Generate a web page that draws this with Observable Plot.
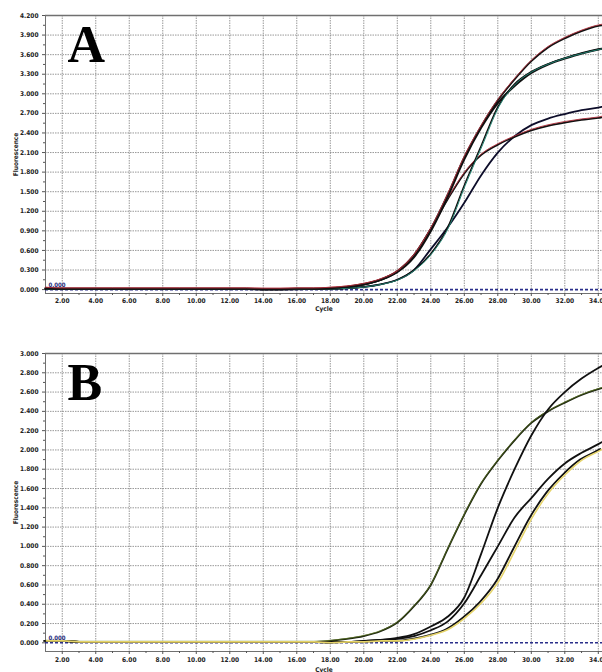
<!DOCTYPE html>
<html><head><meta charset="utf-8">
<script src="https://cdn.jsdelivr.net/npm/d3@7"></script>
<script src="https://cdn.jsdelivr.net/npm/@observablehq/plot@0.6"></script>
<style>
body{margin:0;background:#fff;}
#c{width:602px;}
#c svg{display:block;font-family:"DejaVu Sans Condensed","DejaVu Sans",sans-serif;}
</style>
</head><body><div id="c"></div>
<script>
// Cycle positions (x)
const cycles = [1,2,3,4,5,6,7,8,9,10,11,12,13,14,15,16,17,18,19,20,21,22,23,24,25,26,27,28,29,30,31,32,33,34,34.2];
const xMajorTicks = [2,4,6,8,10,12,14,16,18,20,22,24,26,28,30,32,34];
const xMinorTicks = [3,5,7,9,11,13,15,17,19,21,23,25,27,29,31,33];

// Panel A fluorescence values
const a1 = [0.02,0.01,0.01,0.01,0.01,0.01,0.01,0.01,0.01,0.01,0.01,0.01,0.01,0.005,0.005,0.01,0.01,0.02,0.04,0.08,0.15,0.27,0.52,0.93,1.45,2.03,2.5,2.9,3.22,3.5,3.71,3.85,3.96,4.04,4.05];
const a2 = [0.02,0.01,0.01,0.01,0.01,0.01,0.01,0.01,0.01,0.01,0.01,0.01,0.01,0.005,0.005,0.01,0.01,0.02,0.04,0.08,0.15,0.27,0.5,0.9,1.42,2.0,2.48,2.86,3.12,3.32,3.45,3.54,3.62,3.68,3.69];
const a3 = [0.01,0.01,0.01,0.01,0.01,0.01,0.01,0.01,0.01,0.01,0.01,0.01,0.01,0.005,0.005,0.005,0.01,0.01,0.02,0.04,0.08,0.15,0.3,0.55,0.95,1.6,2.2,2.8,3.15,3.34,3.46,3.55,3.62,3.68,3.69];
const a4 = [0.01,0.01,0.01,0.01,0.01,0.01,0.01,0.01,0.01,0.01,0.01,0.01,0.01,0.005,0.005,0.005,0.01,0.01,0.02,0.04,0.08,0.15,0.3,0.62,0.95,1.33,1.75,2.1,2.35,2.52,2.62,2.69,2.75,2.79,2.8];
const a5 = [0.02,0.01,0.01,0.01,0.01,0.01,0.01,0.01,0.01,0.01,0.01,0.01,0.01,0.005,0.005,0.01,0.01,0.02,0.04,0.08,0.15,0.28,0.53,0.93,1.38,1.78,2.06,2.22,2.34,2.44,2.51,2.56,2.6,2.63,2.64];

// Panel B fluorescence values
const b1 = [0.02,0.02,0.01,0.01,0.01,0.01,0.01,0.01,0.01,0.01,0.01,0.01,0.01,0.01,0.01,0.01,0.01,0.02,0.04,0.07,0.12,0.21,0.38,0.6,0.97,1.33,1.65,1.89,2.1,2.28,2.4,2.49,2.57,2.63,2.64];
const b2 = [0.02,0.02,0.01,0.01,0.01,0.01,0.01,0.01,0.01,0.01,0.01,0.01,0.01,0.01,0.01,0.01,0.01,0.01,0.01,0.02,0.03,0.05,0.09,0.17,0.27,0.47,0.92,1.4,1.8,2.15,2.42,2.6,2.74,2.85,2.87];
const b3 = [0.02,0.02,0.01,0.01,0.01,0.01,0.01,0.01,0.01,0.01,0.01,0.01,0.01,0.01,0.01,0.01,0.01,0.01,0.01,0.02,0.03,0.04,0.07,0.13,0.22,0.41,0.7,1.0,1.3,1.5,1.7,1.86,1.97,2.06,2.08];
const b4 = [0.02,0.02,0.01,0.01,0.01,0.01,0.01,0.01,0.01,0.01,0.01,0.01,0.01,0.01,0.01,0.01,0.01,0.0,0.01,0.01,0.02,0.02,0.04,0.08,0.14,0.26,0.42,0.64,0.97,1.3,1.56,1.75,1.9,1.99,2.01];

const threshold = [0];
const yTicksA = [0,0.3,0.6,0.9,1.2,1.5,1.8,2.1,2.4,2.7,3.0,3.3,3.6,3.9,4.2];
const yMinorA = [0.15,0.45,0.75,1.05,1.35,1.65,1.95,2.25,2.55,2.85,3.15,3.45,3.75,4.05];
const yTicksB = [0,0.2,0.4,0.6,0.8,1.0,1.2,1.4,1.6,1.8,2.0,2.2,2.4,2.6,2.8,3.0];
const yMinorB = [0.1,0.3,0.5,0.7,0.9,1.1,1.3,1.5,1.7,1.9,2.1,2.3,2.5,2.7,2.9];

function rows(vals){ return cycles.map((c,i)=>({cycle:c, value:vals[i]})); }

function panel(opts){
  const {yTicks, yMinor, yMax, yMin, height, marginTop, marginBottom, letter, lines, tickPad, labelOff} = opts;
  const gridStyle = {stroke:"#808080", strokeOpacity:0.8, strokeDasharray:"1.5,1"};
  const marks = [
    Plot.gridX(xMajorTicks, gridStyle),
    Plot.gridY(yTicks.filter(d=>d>0 && d<yMax), gridStyle),
    Plot.ruleY([yMax], {stroke:"#707070", strokeWidth:1.6}),
    Plot.ruleY([yMin], {stroke:"#707070", strokeWidth:1}),
    Plot.ruleX([1], {stroke:"#707070", strokeWidth:1}),
    Plot.axisY({ticks:yTicks, tickFormat:d3.format(".3f"), tickSize:3, tickPadding:4, fontSize:6.5, fontWeight:"bold", fill:"#222", stroke:"#555", label:"Fluorescence", labelAnchor:"center", labelOffset:32, labelArrow:"none"}),
    Plot.axisY({ticks:yMinor, tickFormat:()=>"", tickSize:2, stroke:"#555", label:null}),
    Plot.axisX({ticks:xMajorTicks, tickFormat:d3.format(".2f"), tickSize:3, tickPadding:tickPad, fontSize:6.5, fontWeight:"bold", fill:"#222", stroke:"#555", label:"Cycle", labelAnchor:"center", labelOffset:labelOff, labelArrow:"none"}),
    Plot.axisX({ticks:xMinorTicks, tickFormat:()=>"", tickSize:2, stroke:"#555", label:null}),
    Plot.ruleY(threshold, {x1:1, x2:34.25, stroke:"#2a2f8a", strokeWidth:1.6, strokeDasharray:"3,2"})
  ];
  for (const ln of lines){
    marks.push(Plot.line(rows(ln.vals), {x:"cycle", y:"value", stroke:ln.color, strokeWidth:ln.width, dy:ln.dy||0, dx:ln.dx||0, curve:"monotone-x"}));
  }
  marks.push(Plot.text(threshold, {x:()=>1, y:d=>d, text:d=>d3.format(".3f")(d), textAnchor:"start", dx:3, dy:-5, fontSize:6, fontWeight:"bold", fill:"#1f2a7a"}));
  marks.push(Plot.text([letter], {frameAnchor:"top-left", text:d=>d, textAnchor:"start", lineAnchor:"top", dx:22, dy:10, fontSize:52, fontWeight:"bold", fontFamily:"Liberation Serif, Times New Roman, serif", fill:"#000"}));
  return Plot.plot({
    width:602, height, marginTop, marginBottom, marginLeft:45, marginRight:0,
    x:{domain:[1,34.25]},
    y:{domain:[yMin,yMax]},
    style:{fontSize:"6.5px", color:"#222", overflow:"visible"},
    marks
  });
}

const c = document.getElementById("c");
c.appendChild(panel({
  yTicks:yTicksA, yMinor:yMinorA, yMax:4.2, yMin:-0.06, height:320, marginTop:15, marginBottom:27, letter:"A", tickPad:2, labelOff:17,
  lines:[
    {vals:a4, color:"#0d0d2a", width:1.8},
    {vals:a5, color:"#111", width:1.8},
    {vals:a5, color:"#b0303c", width:0.9, dy:-1},
    {vals:a2, color:"#111", width:2.2},
    {vals:a3, color:"#111", width:1.4},
    {vals:a3, color:"#1f7f6e", width:1, dx:1},
    {vals:a1, color:"#111", width:1.8},
    {vals:a1, color:"#b0303c", width:0.9, dy:-1}
  ]
}));
c.appendChild(panel({
  yTicks:yTicksB, yMinor:yMinorB, yMax:3.0, yMin:-0.09, height:352, marginTop:33, marginBottom:21, letter:"B", tickPad:3, labelOff:20,
  lines:[
    {vals:b1, color:"#1c2410", width:1.8},
    {vals:b1, color:"#5f7a20", width:0.7, dy:-0.6},
    {vals:b2, color:"#111", width:1.8},
    {vals:b3, color:"#111", width:1.8},
    {vals:b4, color:"#111", width:1.8, dx:-1.5},
    {vals:b4, color:"#e6d46a", width:1.6, dx:1}
  ]
}));
</script>
</body></html>
